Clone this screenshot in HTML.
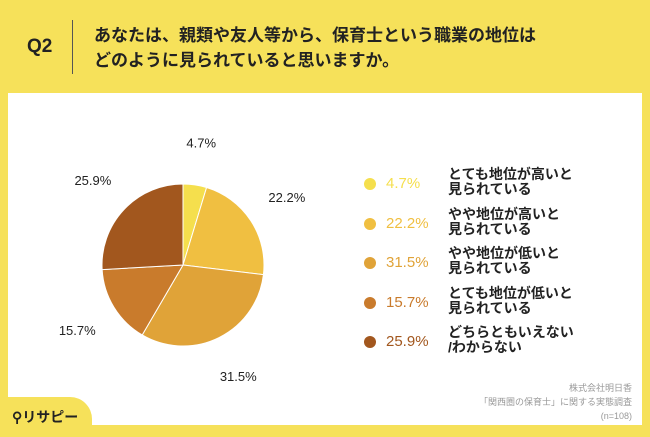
<!DOCTYPE html>
<html><head><meta charset="utf-8"><style>
body{margin:0;width:650px;height:434px;background:#F6E15A;font-family:"Liberation Sans","Noto Sans CJK JP",sans-serif;overflow:hidden;position:relative}
.abs{position:absolute}
</style></head><body>
<div class="abs" style="left:27px;top:36px;font-size:19px;font-weight:bold;color:#222">Q2</div>
<div class="abs" style="left:72px;top:20px;width:1px;height:54px;background:#555"></div>
<div class="abs" style="left:94px;top:23px;font-size:17px;font-weight:bold;line-height:25px;color:#222">あなたは、親類や友人等から、保育士という職業の地位は<br>どのように見られていると思いますか。</div>
<div class="abs" style="left:8px;top:93px;width:634px;height:332px;background:#fff"></div>
<div class="abs" style="left:0;top:397px;width:92px;height:40px;background:#F6E15A;border-top-right-radius:22px"></div>
<div class="abs" style="left:12px;top:407px;font-size:14px;font-weight:bold;color:#222">⚲リサピー</div>
<svg class="abs" style="left:0;top:0" width="650" height="434" id="chart"></svg>
<div class="abs" style="right:18px;top:381px;text-align:right;font-size:9px;line-height:14px;color:#999">株式会社明日香<br>「関西圏の保育士」に関する実態調査<br>(n=108)</div>
<script>
const categories=["とても地位が高いと<br>見られている","やや地位が高いと<br>見られている","やや地位が低いと<br>見られている","とても地位が低いと<br>見られている","どちらともいえない<br>/わからない"];
const values=[4.7,22.2,31.5,15.7,25.9];
const colors=["#F5DF4D","#F0BF41","#E0A338","#C97B2C","#A2571E"];
const svg=document.getElementById('chart');
const NS='http://www.w3.org/2000/svg';
const cx=183,cy=265,r=81;
const total=values.reduce((a,b)=>a+b,0);
let a0=-Math.PI/2;
values.forEach((v,i)=>{
  const a1=a0+v/total*2*Math.PI;
  const p=document.createElementNS(NS,'path');
  const x0=cx+r*Math.cos(a0),y0=cy+r*Math.sin(a0),x1=cx+r*Math.cos(a1),y1=cy+r*Math.sin(a1);
  p.setAttribute('d',`M${cx},${cy}L${x0},${y0}A${r},${r} 0 ${a1-a0>Math.PI?1:0} 1 ${x1},${y1}Z`);
  p.setAttribute('fill',colors[i]);p.setAttribute('stroke','#fff');p.setAttribute('stroke-width','1');
  
  
  svg.appendChild(p);
  const am=(a0+a1)/2;
  const t=document.createElementNS(NS,'text');
  const lr=r+43;
  const tx=cx+lr*Math.cos(am),ty=cy+lr*Math.sin(am);
  t.setAttribute('x',tx);t.setAttribute('y',ty+5);t.setAttribute('text-anchor','middle');
  t.setAttribute('font-size','13');t.setAttribute('fill','#222');
  t.textContent=v.toFixed(1)+'%';
  
  
  svg.appendChild(t);
  a0=a1;
});
values.forEach((v,i)=>{
  const y=184+i*39.5;
  const c=document.createElement('div');c.className='abs';
  c.style.cssText=`left:364px;top:${y-6}px;width:12px;height:12px;border-radius:50%;background:${colors[i]}`;
  
  
  document.body.appendChild(c);
  const p=document.createElement('div');p.className='abs';
  p.style.cssText=`left:386px;top:${y-9}px;font-size:15px;color:${colors[i]}`;
  p.textContent=v.toFixed(1)+'%';
  
  
  document.body.appendChild(p);
  const l=document.createElement('div');l.className='abs';
  l.style.cssText=`left:448px;top:${y-17}px;font-size:14px;line-height:15px;font-weight:bold;color:#222`;
  l.innerHTML=categories[i];
  
  
  document.body.appendChild(l);
});
</script>
</body></html>
